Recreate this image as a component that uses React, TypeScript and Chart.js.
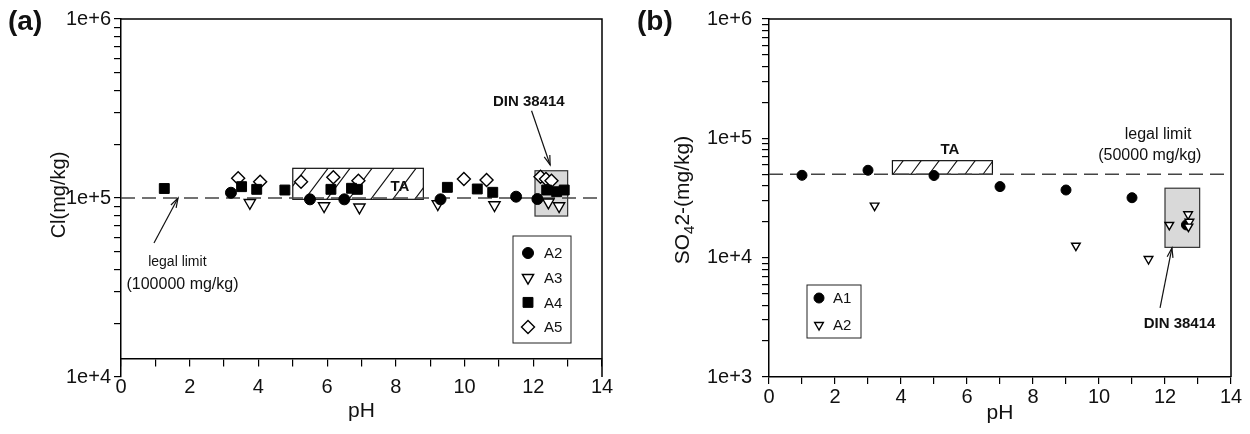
import React, { useEffect, useRef } from 'react';
import { Chart, registerables } from 'chart.js';

Chart.register(...registerables);

const FONT = "'Liberation Sans', Arial, Helvetica, sans-serif";

// ---------------- Panel (a): Cl(mg/kg) vs pH ----------------
const phA2a = [3.2, 5.5, 6.5, 9.3, 11.5, 12.12];
const clA2 = [107000, 98300, 98300, 98300, 101700, 98700];
const phA3a = [3.75, 5.91, 6.94, 9.22, 10.87, 12.44, 12.75];
const clA3 = [94100, 90200, 88700, 92600, 91400, 94600, 90200];
const phA4a = [1.26, 3.51, 3.95, 4.77, 6.11, 6.71, 6.88, 9.5, 10.37, 10.82, 12.39, 12.68, 12.9];
const clA4 = [113000, 115700, 111800, 110800, 111800, 113300, 111800, 114700, 112300, 107600, 110800, 108400, 110800];
const phA5a = [3.41, 4.05, 5.24, 6.18, 6.91, 9.98, 10.64, 12.21, 12.37, 12.53];
const clA5 = [129000, 123300, 123300, 130500, 124900, 127700, 126000, 131600, 127700, 124900];
const clLimit = 100000;
const clAxisCross = 12600;
const clTaBoxX = [5.0, 8.8];
const clTaBoxY = [98300, 146500];
const clDinBoxX = [12.05, 13.0];
const clDinBoxY = [79300, 142000];
const clTaLabel = [8.12, 115000];
const clDinLabel = [11.87, 345000];
const clDinArrow = [11.95, 307000, 12.49, 153000];
const clLimitLabelX = [1.64, 1.79];
const clLimitLabelY = [44100, 33000];
const clLimitArrow = [0.96, 56100, 1.66, 100000];

// ---------------- Panel (b): SO4 2-(mg/kg) vs pH ----------------
const phA1b = [1.0, 3.0, 5.0, 7.0, 9.0, 11.0, 12.65];
const so4A1 = [49000, 54000, 48800, 39400, 36900, 31800, 18800];
const phA2b = [3.2, 9.3, 11.5, 12.13, 12.7, 12.74, 12.71];
const so4A2 = [27300, 12600, 9750, 18800, 23100, 20000, 18200];
const so4Limit = 50000;
const so4TaBoxX = [3.74, 6.77];
const so4TaBoxY = [50000, 65000];
const so4DinBoxX = [12.0, 13.05];
const so4DinBoxY = [12200, 38200];
const so4TaLabel = [5.48, 80000];
const so4DinLabel = [12.44, 2780];
const so4DinArrow = [11.85, 3790, 12.21, 12060];
const so4LimitLabelX = [11.79, 11.54];
const so4LimitLabelY = [108000, 71000];

// ---------------- Ticks ----------------
const xMajorTicks = [0, 2, 4, 6, 8, 10, 12, 14];
const yDecadesA = [1e4, 1e5, 1e6];
const yLabelsA = ['1e+4', '1e+5', '1e+6'];
const yDecadesB = [1e3, 1e4, 1e5, 1e6];
const yLabelsB = ['1e+3', '1e+4', '1e+5', '1e+6'];

const zip = (xs: number[], ys: number[]) => xs.map((x, i) => ({ x, y: ys[i] }));

function logTicks(decades: number[]) {
  const out: number[] = [];
  for (let i = 0; i < decades.length - 1; i++) {
    for (let m = 1; m < 10; m++) out.push(decades[i] * m);
  }
  out.push(decades[decades.length - 1]);
  return out;
}

function drawArrow(ctx: CanvasRenderingContext2D, x1: number, y1: number, x2: number, y2: number) {
  ctx.save();
  ctx.strokeStyle = '#111';
  ctx.lineWidth = 1.2;
  ctx.beginPath();
  ctx.moveTo(x1, y1);
  ctx.lineTo(x2, y2);
  ctx.stroke();
  const a = Math.atan2(y2 - y1, x2 - x1);
  const L = 10, w = 0.3;
  ctx.beginPath();
  ctx.moveTo(x2 - L * Math.cos(a - w), y2 - L * Math.sin(a - w));
  ctx.lineTo(x2, y2);
  ctx.lineTo(x2 - L * Math.cos(a + w), y2 - L * Math.sin(a + w));
  ctx.stroke();
  ctx.restore();
}

function hatchBox(ctx: CanvasRenderingContext2D, x1: number, y1: number, x2: number, y2: number, spacing: number) {
  ctx.save();
  ctx.fillStyle = '#fff';
  ctx.fillRect(x1, y1, x2 - x1, y2 - y1);
  ctx.beginPath();
  ctx.rect(x1, y1, x2 - x1, y2 - y1);
  ctx.clip();
  ctx.strokeStyle = '#111';
  ctx.lineWidth = 1.1;
  const h = y2 - y1;
  const dx = h * 0.75;
  ctx.beginPath();
  for (let x = x1 - dx + spacing * 0.6; x < x2 + dx; x += spacing) {
    ctx.moveTo(x, y2);
    ctx.lineTo(x + dx, y1);
  }
  ctx.stroke();
  ctx.restore();
  ctx.save();
  ctx.strokeStyle = '#111';
  ctx.lineWidth = 1.2;
  ctx.strokeRect(x1, y1, x2 - x1, y2 - y1);
  ctx.restore();
}

function greyBox(ctx: CanvasRenderingContext2D, x1: number, y1: number, x2: number, y2: number) {
  ctx.save();
  ctx.fillStyle = '#d9d9d9';
  ctx.fillRect(x1, y1, x2 - x1, y2 - y1);
  ctx.strokeStyle = '#333';
  ctx.lineWidth = 1.2;
  ctx.strokeRect(x1, y1, x2 - x1, y2 - y1);
  ctx.restore();
}

function drawMarker(ctx: CanvasRenderingContext2D, ds: any, x: number, y: number) {
  const r = ds.pointRadius;
  ctx.save();
  ctx.beginPath();
  if (ds.pointStyle === 'circle') ctx.arc(x, y, r, 0, Math.PI * 2);
  else if (ds.pointStyle === 'rect') {
    const s = r * Math.SQRT1_2;
    ctx.rect(x - s, y - s, 2 * s, 2 * s);
  } else if (ds.pointStyle === 'rectRot') {
    ctx.moveTo(x - r, y);
    ctx.lineTo(x, y - r);
    ctx.lineTo(x + r, y);
    ctx.lineTo(x, y + r);
    ctx.closePath();
  } else if (ds.pointStyle === 'triangle') {
    ctx.moveTo(x, y + r);
    ctx.lineTo(x - r * 0.866, y - r * 0.5);
    ctx.lineTo(x + r * 0.866, y - r * 0.5);
    ctx.closePath();
  }
  ctx.fillStyle = ds.backgroundColor;
  ctx.fill();
  ctx.strokeStyle = ds.borderColor;
  ctx.lineWidth = ds.borderWidth;
  ctx.stroke();
  ctx.restore();
}

function drawLegend(chart: any, left: number, top: number, right: number, bottom: number, markerX: number, textX: number, firstY: number, step: number) {
  const ctx = chart.ctx as CanvasRenderingContext2D;
  ctx.save();
  ctx.fillStyle = '#fff';
  ctx.fillRect(left, top, right - left, bottom - top);
  ctx.strokeStyle = '#222';
  ctx.lineWidth = 1;
  ctx.strokeRect(left, top, right - left, bottom - top);
  const sets = chart.data.datasets.filter((d: any) => !d.isLimit);
  sets.forEach((ds: any, i: number) => {
    const y = firstY + i * step;
    drawMarker(ctx, ds, markerX, y);
    ctx.fillStyle = '#111';
    ctx.font = `15px ${FONT}`;
    ctx.textAlign = 'left';
    ctx.textBaseline = 'middle';
    ctx.fillText(ds.label, textX, y + 1);
  });
  ctx.restore();
}

function frame(chart: any) {
  const { ctx, chartArea } = chart;
  ctx.save();
  ctx.strokeStyle = '#000';
  ctx.lineWidth = 1.5;
  ctx.beginPath();
  ctx.moveTo(chartArea.left, chartArea.top);
  ctx.lineTo(chartArea.right, chartArea.top);
  ctx.lineTo(chartArea.right, chartArea.bottom);
  ctx.stroke();
  ctx.restore();
}

function text(ctx: CanvasRenderingContext2D, s: string, x: number, y: number, font: string, align: CanvasTextAlign = 'center') {
  ctx.save();
  ctx.fillStyle = '#111';
  ctx.font = font;
  ctx.textAlign = align;
  ctx.textBaseline = 'middle';
  ctx.fillText(s, x, y);
  ctx.restore();
}

const decorA = {
  id: 'decorA',
  beforeDatasetsDraw(chart: any) {
    const { ctx, scales } = chart;
    const X = (v: number) => scales.x.getPixelForValue(v);
    const Y = (v: number) => scales.y.getPixelForValue(v);
    hatchBox(ctx, X(clTaBoxX[0]), Y(clTaBoxY[1]), X(clTaBoxX[1]), Y(clTaBoxY[0]), 22);
    text(ctx, 'TA', X(clTaLabel[0]), Y(clTaLabel[1]), `bold 15px ${FONT}`);
    greyBox(ctx, X(clDinBoxX[0]), Y(clDinBoxY[1]), X(clDinBoxX[1]), Y(clDinBoxY[0]));
  },
  afterDraw(chart: any) {
    const { ctx, scales } = chart;
    const X = (v: number) => scales.x.getPixelForValue(v);
    const Y = (v: number) => scales.y.getPixelForValue(v);
    frame(chart);
    text(ctx, 'DIN 38414', X(clDinLabel[0]), Y(clDinLabel[1]), `bold 15px ${FONT}`);
    drawArrow(ctx, X(clDinArrow[0]), Y(clDinArrow[1]), X(clDinArrow[2]), Y(clDinArrow[3]));
    text(ctx, 'legal limit', X(clLimitLabelX[0]), Y(clLimitLabelY[0]), `14px ${FONT}`);
    text(ctx, '(100000 mg/kg)', X(clLimitLabelX[1]), Y(clLimitLabelY[1]), `16px ${FONT}`);
    drawArrow(ctx, X(clLimitArrow[0]), Y(clLimitArrow[1]), X(clLimitArrow[2]), Y(clLimitArrow[3]));
    drawLegend(chart, 513, 236, 571, 343, 528, 544, 253, 24.7);
    ctx.save();
    ctx.translate(59, 195);
    ctx.rotate(-Math.PI / 2);
    text(ctx, 'Cl(mg/kg)', 0, 0, `20px ${FONT}`);
    ctx.restore();
    text(ctx, '(a)', 8, 22, `bold 28px ${FONT}`, 'left');
  },
};

const decorB = {
  id: 'decorB',
  beforeDatasetsDraw(chart: any) {
    const { ctx, scales } = chart;
    const X = (v: number) => scales.x.getPixelForValue(v);
    const Y = (v: number) => scales.y.getPixelForValue(v);
    hatchBox(ctx, X(so4TaBoxX[0]), Y(so4TaBoxY[1]), X(so4TaBoxX[1]), Y(so4TaBoxY[0]), 18);
    greyBox(ctx, X(so4DinBoxX[0]), Y(so4DinBoxY[1]), X(so4DinBoxX[1]), Y(so4DinBoxY[0]));
  },
  afterDraw(chart: any) {
    const { ctx, scales } = chart;
    const X = (v: number) => scales.x.getPixelForValue(v);
    const Y = (v: number) => scales.y.getPixelForValue(v);
    frame(chart);
    text(ctx, 'TA', X(so4TaLabel[0]), Y(so4TaLabel[1]), `bold 15px ${FONT}`);
    text(ctx, 'DIN 38414', X(so4DinLabel[0]), Y(so4DinLabel[1]), `bold 15px ${FONT}`);
    drawArrow(ctx, X(so4DinArrow[0]), Y(so4DinArrow[1]), X(so4DinArrow[2]), Y(so4DinArrow[3]));
    text(ctx, 'legal limit', X(so4LimitLabelX[0]), Y(so4LimitLabelY[0]), `16px ${FONT}`);
    text(ctx, '(50000 mg/kg)', X(so4LimitLabelX[1]), Y(so4LimitLabelY[1]), `16px ${FONT}`);
    drawLegend(chart, 182, 285, 236, 338, 194, 208, 298, 27);
    ctx.save();
    ctx.translate(58, 200);
    ctx.rotate(-Math.PI / 2);
    ctx.fillStyle = '#111';
    ctx.textBaseline = 'middle';
    ctx.textAlign = 'left';
    const big = `21px ${FONT}`;
    const small = `15px ${FONT}`;
    ctx.font = big;
    const w1 = ctx.measureText('SO').width;
    const w3 = ctx.measureText('2-(mg/kg)').width;
    ctx.font = small;
    const w2 = ctx.measureText('4').width;
    let x = -(w1 + w2 + w3) / 2;
    ctx.font = big;
    ctx.fillText('SO', x, 0);
    x += w1;
    ctx.font = small;
    ctx.fillText('4', x, 7);
    x += w2;
    ctx.font = big;
    ctx.fillText('2-(mg/kg)', x, 0);
    ctx.restore();
    text(ctx, '(b)', 12, 22, `bold 28px ${FONT}`, 'left');
  },
};

const axisColor = '#000';

function xTicks(padding: number) {
  return {
    stepSize: 1,
    autoSkip: false,
    maxRotation: 0,
    padding,
    color: '#111',
    font: { family: FONT, size: 20 },
    callback: (v: any) => (xMajorTicks.includes(v) ? String(v) : ''),
  };
}

function xScale(height: number, extra: any) {
  return {
    type: 'linear',
    min: 0,
    max: 14,
    afterFit: (s: any) => {
      s.height = height;
      s.paddingLeft = 0;
      s.paddingRight = 0;
      s.paddingTop = 0;
      s.paddingBottom = 0;
    },
    grid: { drawOnChartArea: false, tickLength: 7, color: axisColor, lineWidth: 1.2 },
    border: { display: true, color: axisColor, width: 1.5 },
    title: { display: true, text: 'pH', color: '#111', font: { family: FONT, size: 21 }, padding: 0 },
    ...extra,
  };
}

function yScale(decades: number[], labels: string[], width: number, padding: number) {
  return {
    type: 'logarithmic',
    min: decades[0],
    max: decades[decades.length - 1],
    afterFit: (s: any) => {
      s.width = width;
      s.paddingTop = 0;
      s.paddingBottom = 0;
      s.paddingLeft = 0;
      s.paddingRight = 0;
    },
    afterBuildTicks: (s: any) => {
      s.ticks = logTicks(decades).map((v) => ({ value: v }));
    },
    ticks: {
      autoSkip: false,
      padding,
      color: '#111',
      font: { family: FONT, size: 20 },
      callback: (v: any) => {
        const i = decades.indexOf(v);
        return i >= 0 ? labels[i] : '';
      },
    },
    grid: { drawOnChartArea: false, tickLength: 7, color: axisColor, lineWidth: 1.2 },
    border: { display: true, color: axisColor, width: 1.5 },
  };
}

const baseOptions = {
  responsive: false,
  animation: false,
  devicePixelRatio: 1,
  events: [],
  plugins: { legend: { display: false }, tooltip: { enabled: false } },
};

function configA(): any {
  return {
    type: 'scatter',
    data: {
      datasets: [
        { label: 'A2', data: zip(phA2a, clA2), pointStyle: 'circle', pointRadius: 5.5, backgroundColor: '#000', borderColor: '#000', borderWidth: 1, order: 1 },
        { label: 'A3', data: zip(phA3a, clA3), pointStyle: 'triangle', pointRotation: 180, pointRadius: 6.5, backgroundColor: '#fff', borderColor: '#000', borderWidth: 1.4, order: 2 },
        { label: 'A4', data: zip(phA4a, clA4), pointStyle: 'rect', pointRadius: 7, backgroundColor: '#000', borderColor: '#000', borderWidth: 1, order: 3 },
        { label: 'A5', data: zip(phA5a, clA5), pointStyle: 'rectRot', pointRadius: 6.5, backgroundColor: '#fff', borderColor: '#000', borderWidth: 1.4, order: 4 },
        { label: 'limit', isLimit: true, data: [{ x: 0, y: clLimit }, { x: 14, y: clLimit }], showLine: true, borderDash: [14, 7], borderColor: '#444', borderWidth: 1.6, pointRadius: 0, order: 10 },
      ],
    },
    options: {
      ...baseOptions,
      layout: { padding: { left: 0, right: 23, top: 19, bottom: 57 } },
      scales: {
        x: xScale(65, { position: { y: clAxisCross }, ticks: xTicks(9) }),
        y: yScale(yDecadesA, yLabelsA, 121, 3),
      },
    },
    plugins: [decorA],
  };
}

function configB(): any {
  return {
    type: 'scatter',
    data: {
      datasets: [
        { label: 'A1', data: zip(phA1b, so4A1), pointStyle: 'circle', pointRadius: 5, backgroundColor: '#000', borderColor: '#000', borderWidth: 1, order: 2 },
        { label: 'A2', data: zip(phA2b, so4A2), pointStyle: 'triangle', pointRotation: 180, pointRadius: 5, backgroundColor: '#fff', borderColor: '#000', borderWidth: 1.4, order: 1 },
        { label: 'limit', isLimit: true, data: [{ x: 0, y: so4Limit }, { x: 14, y: so4Limit }], showLine: true, borderDash: [14, 7], borderColor: '#444', borderWidth: 1.6, pointRadius: 0, order: 10 },
      ],
    },
    options: {
      ...baseOptions,
      layout: { padding: { left: 0, right: 19, top: 19, bottom: 0 } },
      scales: {
        x: xScale(57, {
          position: 'bottom',
          ticks: xTicks(1),
          title: { display: true, text: 'pH', color: '#111', font: { family: FONT, size: 21 }, padding: { top: 0, bottom: 8 } },
        }),
        y: yScale(yDecadesB, yLabelsB, 144, 10),
      },
    },
    plugins: [decorB],
  };
}

function Panel({ make, left }: { make: () => any; left: number }) {
  const ref = useRef<HTMLCanvasElement>(null);
  useEffect(() => {
    const chart = new Chart(ref.current as HTMLCanvasElement, make());
    return () => chart.destroy();
  }, []);
  return <canvas ref={ref} width={625} height={434} style={{ position: 'absolute', left, top: 0, width: 625, height: 434 }} />;
}

export default function App() {
  return (
    <div style={{ position: 'absolute', left: 0, top: 0, width: 1250, height: 434, background: '#fff' }}>
      <Panel make={configA} left={0} />
      <Panel make={configB} left={625} />
    </div>
  );
}
